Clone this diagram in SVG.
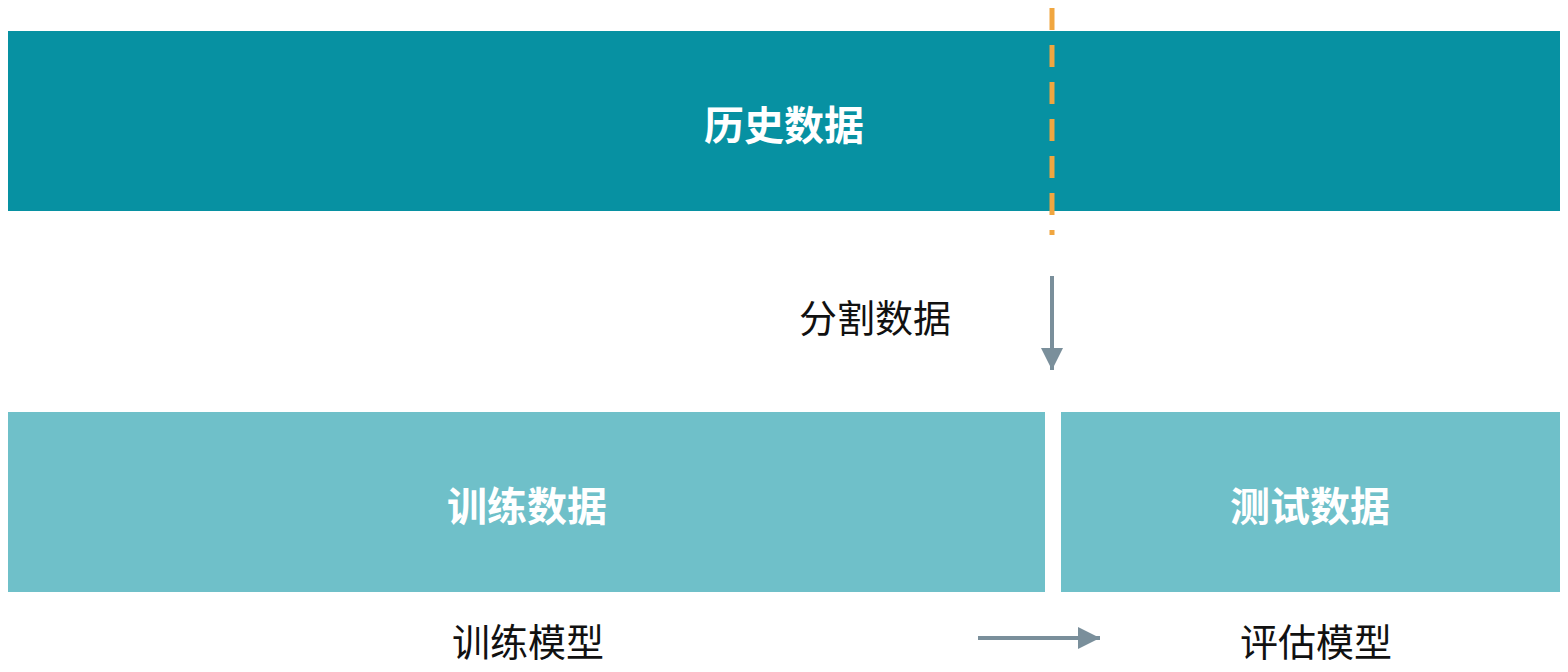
<svg xmlns="http://www.w3.org/2000/svg" width="1568" height="672" viewBox="0 0 1568 672">
<style>
.w{fill:#fff;font-family:"Noto Sans CJK SC",sans-serif;font-weight:bold;font-size:40px;text-anchor:middle}
.b{fill:#111;font-family:"Noto Sans CJK SC",sans-serif;font-size:38px;text-anchor:middle}
.c{stroke:#7a8f9b;stroke-width:4;fill:none}
</style>
<defs><marker id="ah" markerWidth="10" markerHeight="10" refX="8" refY="5" orient="auto" markerUnits="userSpaceOnUse" viewBox="0 0 10 10"><path d="M0,0L10,5L0,10z" fill="#7a8f9b"/></marker>
<marker id="ah2" viewBox="0 0 10 10" refX="10" refY="5" markerWidth="24" markerHeight="22" orient="auto" markerUnits="userSpaceOnUse"><path d="M0,0L10,5L0,10z" fill="#7a8f9b"/></marker></defs>
<rect width="1568" height="672" fill="#fff"/>
<g id="history"><rect x="8" y="31" width="1552" height="180" fill="#0791a2"/><text class="w" x="784" y="140">历史数据</text></g>
<g id="train"><rect x="8" y="412" width="1037" height="180" fill="#6fc0c9"/><text class="w" x="527" y="521">训练数据</text></g>
<g id="test"><rect x="1061" y="412" width="499" height="180" fill="#6fc0c9"/><text class="w" x="1310" y="521">测试数据</text></g>
<g id="labels"><text class="b" x="875" y="332">分割数据</text><text class="b" x="528" y="656">训练模型</text><text class="b" x="1316" y="656">评估模型</text></g>
<g id="connectors">
<line x1="1052" y1="8" x2="1052" y2="235" stroke="#f0a640" stroke-width="5" stroke-dasharray="22,15"/>
<line class="c" x1="1052" y1="276" x2="1052" y2="370" marker-end="url(#ah2)"/>
<line class="c" x1="978" y1="638" x2="1100" y2="638" marker-end="url(#ah2)"/>
</g>
</svg>
